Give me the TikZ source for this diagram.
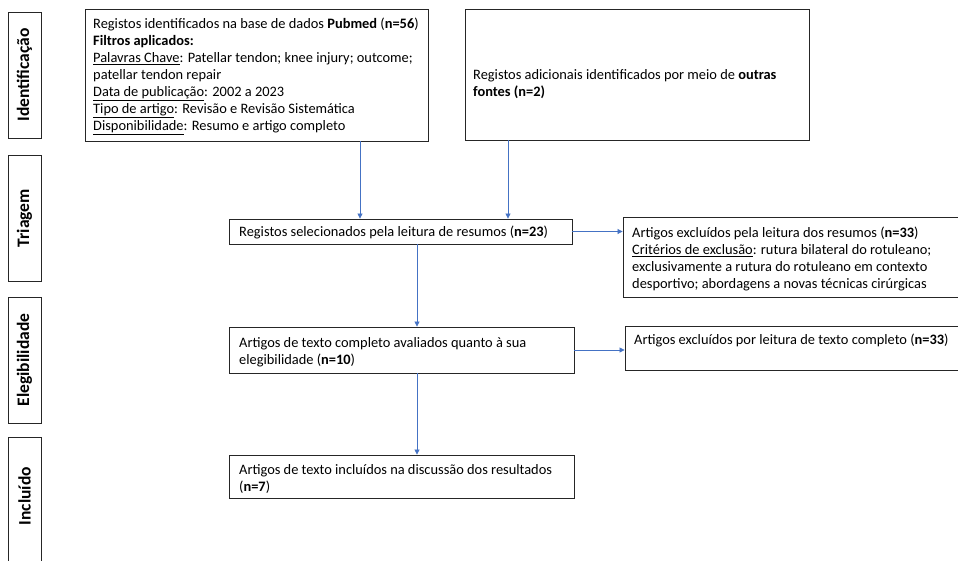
\documentclass[tikz,border=0pt]{standalone}
\usepackage{fontspec}
\setmainfont{Carlito}
\usetikzlibrary{arrows.meta}
\definecolor{arrblue}{HTML}{4472C4}
\begin{document}
\begin{tikzpicture}[x=1pt,y=-1pt,
  box/.style={draw=black!85, line width=0.9pt, rectangle, inner sep=0pt, fill=white},
  sidebox/.style={draw=black!85, line width=0.9pt, rectangle, inner sep=0pt, minimum width=33pt},
  sidelbl/.style={rotate=90, font=\fontsize{17.5}{21}\selectfont\bfseries, inner sep=0pt},
  txt/.style={anchor=north west, inner sep=0pt, align=left, font=\fontsize{14.4}{17}\selectfont},
  arr/.style={draw=arrblue, line width=0.8pt, -{Triangle[width=5pt,length=5pt]}}]
\useasboundingbox (0,0) rectangle (958,560);
\clip (0,0) rectangle (958,560);
\fill[white] (0,0) rectangle (958,560);

% side labels
\node[sidebox, minimum height=126pt] (s1) at (24.5,75) {};
\node[sidelbl] (l1) at (s1.center) {Identificação};
\node[sidebox, minimum height=126pt] (s2) at (24.5,218) {};
\node[sidelbl] (l2) at (s2.center) {Triagem};
\node[sidebox, minimum height=126pt] (s3) at (24.5,360) {};
\node[sidelbl] (l3) at (s3.center) {Elegibilidade};
\node[sidebox, minimum height=133pt] (s4) at (24.5,503.5) {};
\node[sidelbl] (l4) at (24.5,496) {Incluído};

% boxes
\node[box, minimum width=343pt, minimum height=132pt] (b1) at (256.5,75) {};
\node[box, minimum width=344pt, minimum height=131pt] (b2) at (637,74.5) {};
\node[box, minimum width=343pt, minimum height=25pt] (b3) at (400.5,231.5) {};
\node[box, minimum width=339pt, minimum height=80pt] (b4) at (792.5,257) {};
\node[box, minimum width=345pt, minimum height=46pt] (b5) at (401.5,350) {};
\node[box, minimum width=337pt, minimum height=44pt] (b6) at (793.5,348) {};
\node[box, minimum width=345pt, minimum height=43pt] (b7) at (401.5,476.5) {};

% texts
\node[txt] (t1) at (93,18) {Registos identificados na base de dados \textbf{Pubmed} (\textbf{n=56})\\
\textbf{Filtros aplicados:}\\
\underline{Palavras Chave}: Patellar tendon; knee injury; outcome;\\
patellar tendon repair\\
\underline{Data de publicação}: 2002 a 2023\\
\underline{Tipo de artigo}: Revisão e Revisão Sistemática\\
\underline{Disponibilidade}: Resumo e artigo completo};
\node[txt] (t2) at (473,69) {Registos adicionais identificados por meio de \textbf{outras}\\
\textbf{fontes (n=2)}};
\node[txt] (t3) at (239,226) {Registos selecionados pela leitura de resumos (\textbf{n=23})};
\node[txt] (t4) at (632,227) {Artigos excluídos pela leitura dos resumos (\textbf{n=33})\\
\underline{Critérios de exclusão}: rutura bilateral do rotuleano;\\
exclusivamente a rutura do rotuleano em contexto\\
desportivo; abordagens a novas técnicas cirúrgicas};
\node[txt] (t5) at (239,337) {Artigos de texto completo avaliados quanto à sua\\
elegibilidade (\textbf{n=10})};
\node[txt] (t6) at (634,334) {Artigos excluídos por leitura de texto completo (\textbf{n=33})};
\node[txt] (t7) at (239,464) {Artigos de texto incluídos na discussão dos resultados\\
(\textbf{n=7})};

% connectors
\draw[arr] ([xshift=103.5pt]b1.south) -- ([xshift=103.5pt]b1.south |- b3.north);
\draw[arr] ([xshift=-129pt]b2.south) -- ([xshift=-129pt]b2.south |- b3.north);
\draw[arr] ([xshift=16.5pt]b3.south) -- ([xshift=16.5pt]b3.south |- b5.north);
\draw[arr] (b3.east) -- (b3.east -| b4.west);
\draw[arr] (b5.east) -- (b5.east -| b6.west);
\draw[arr] ([xshift=15.5pt]b5.south) -- ([xshift=15.5pt]b5.south |- b7.north);
\end{tikzpicture}
\end{document}
